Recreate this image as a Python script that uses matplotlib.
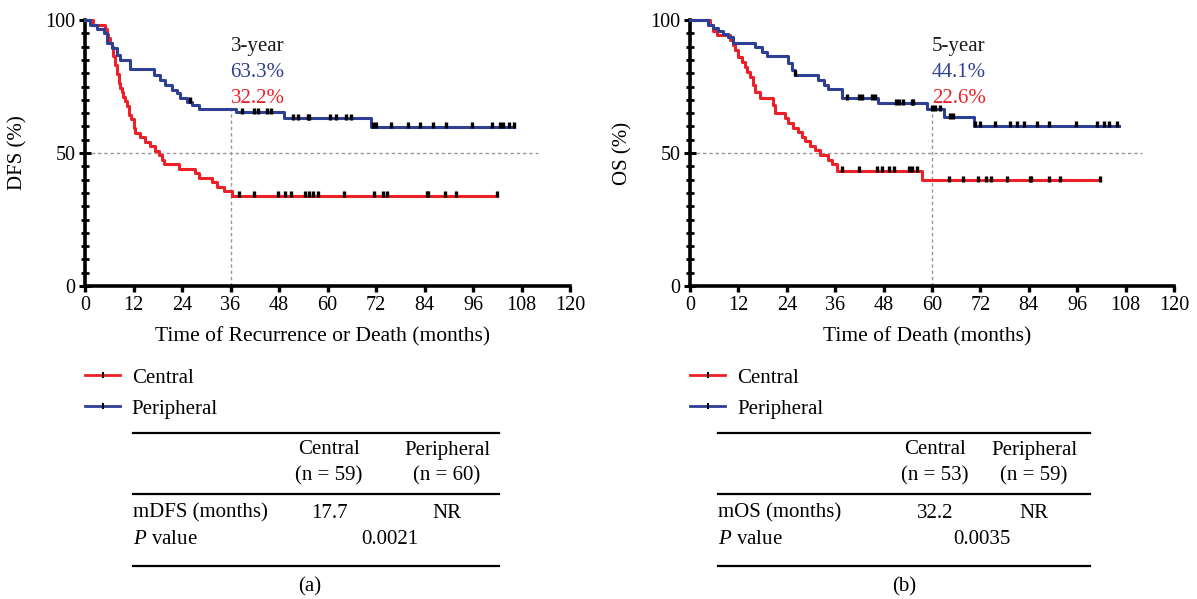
import numpy as np
import matplotlib
matplotlib.use("Agg")
import matplotlib.pyplot as plt
from matplotlib.lines import Line2D
from matplotlib.ticker import MultipleLocator

plt.rcParams['font.family'] = ['Liberation Serif', 'DejaVu Serif']
plt.rcParams['mathtext.fontset'] = 'custom'
plt.rcParams['mathtext.it'] = 'Liberation Serif:italic'

# ---- data (months, survival %) ----
# (a) disease-free survival
dfs_central_t = [0, 2.1, 5.0, 5.4, 5.8, 6.2, 6.6, 7.0, 7.5, 7.9, 8.3, 8.7, 9.1, 9.5, 10.0, 10.4,
                 11.0, 11.5, 12.0, 12.4, 13.7, 14.9, 16.1, 17.4, 18.2, 19.1, 19.5, 23.2, 27.3,
                 28.2, 31.5, 32.7, 34.4, 36.3]
dfs_central_s = [100, 98.3, 96.6, 94.9, 93.2, 91.5, 89.8, 86.4, 83.1, 79.7, 76.3, 74.6, 72.9, 71.2,
                 69.5, 67.8, 64.4, 62.7, 59.3, 57.6, 55.9, 54.2, 52.5, 50.8, 49.2, 47.5, 45.8,
                 44.1, 42.4, 40.7, 39.0, 37.3, 35.6, 33.9]
dfs_central_end = 101.9
dfs_central_cens = [38.1, 41.8, 47.8, 49.4, 50.9, 54.4, 55.5, 56.5, 57.7, 64.2, 71.6, 73.7, 74.8,
                    84.5, 84.9, 89.0, 91.9, 101.9]

dfs_periph_t = [0, 1.2, 2.9, 4.6, 5.4, 6.6, 7.9, 8.7, 11.2, 17.0, 18.6, 19.9, 21.5, 22.8, 23.6,
                25.3, 26.5, 28.2, 37.3, 49.3, 70.8]
dfs_periph_s = [100, 98.0, 96.5, 95.0, 91.5, 89.3, 86.8, 85.0, 81.5, 79.5, 77.5, 75.7, 73.8, 72.4,
                70.7, 69.3, 68.0, 66.5, 65.3, 63.0, 59.8]
dfs_periph_end = 106.2
dfs_periph_cens = [26.1, 38.9, 41.8, 42.7, 45.1, 46.0, 51.4, 52.6, 55.1, 55.5, 60.5, 62.1, 64.6,
                   65.8, 71.2, 72.1, 75.8, 79.8, 82.8, 86.1, 89.2, 95.7, 100.8, 102.7, 103.5,
                   104.8, 106.2]

# (b) overall survival
os_central_t = [0, 5.0, 5.8, 6.6, 9.9, 10.7, 11.2, 12.0, 12.8, 13.6, 14.1, 14.9, 15.7, 16.1, 17.4,
                20.7, 21.1, 23.6, 24.4, 25.6, 26.9, 27.7, 28.5, 29.8, 31.0, 32.3, 34.3, 35.2,
                36.4, 57.5]
os_central_s = [100, 98.1, 96.0, 94.4, 92.5, 90.6, 88.7, 86.2, 84.3, 82.4, 80.6, 78.7, 75.6, 73.0,
                70.6, 68.0, 64.9, 63.0, 61.2, 59.5, 57.8, 56.0, 54.5, 52.7, 51.0, 49.2, 47.4,
                45.8, 43.2, 39.8]
os_central_end = 101.7
os_central_cens = [37.8, 41.8, 46.3, 47.7, 49.4, 50.7, 54.3, 55.0, 56.4, 64.1, 67.7, 71.4, 73.4,
                   74.7, 78.6, 84.2, 84.6, 88.9, 91.8, 101.7]

os_periph_t = [0, 4.5, 5.8, 7.0, 8.3, 9.5, 10.7, 16.1, 17.8, 19.0, 24.4, 25.2, 26.1, 31.8, 33.1,
               34.3, 37.6, 46.7, 58.7, 62.9, 70.3]
os_periph_s = [100, 98.1, 96.9, 96.0, 94.7, 93.5, 91.5, 90.0, 88.1, 86.6, 83.7, 81.2, 79.3, 77.4,
               75.6, 73.9, 70.6, 68.7, 66.5, 63.4, 60.3]
os_periph_end = 106.3
os_periph_cens = [26.1, 38.9, 41.8, 42.6, 45.1, 45.9, 51.0, 51.7, 52.9, 55.0, 55.4, 60.0, 60.8,
                  62.0, 64.5, 65.3, 70.7, 72.0, 75.7, 79.4, 81.1, 82.7, 86.0, 89.1, 95.7, 100.9,
                  102.6, 103.8, 105.9]

groups = ['Central', 'Peripheral']
dfs_n = ['(n = 59)', '(n = 60)']
os_n = ['(n = 53)', '(n = 59)']
dfs_median = ['17.7', 'NR']
os_median = ['32.2', 'NR']
dfs_p = '0.0021'
os_p = '0.0035'
dfs_rates = ['3-year', '63.3%', '32.2%']
os_rates = ['5-year', '44.1%', '22.6%']

RED = '#ee2027'
BLUE = '#2e3f96'
W, H = 1197, 599
FS = 15


def fx(px):
    return px / W


def fy(py):
    return 1 - py / H


def step_val(t, s, x):
    i = np.searchsorted(t, x, side='right') - 1
    return np.asarray(s)[i]


def km(ax, t, s, end, cens, color):
    t2 = list(t) + [end]
    s2 = list(s) + [s[-1]]
    ax.step(t2, s2, where='post', color=color, lw=2.2, clip_on=False, zorder=3)
    cy = [step_val(t, s, c) + 0.6 for c in cens]
    ax.plot(cens, cy, ls='none', marker='|', ms=5, mew=2.4, color='black', zorder=4,
            clip_on=False)


def style(ax, ylab, xlab, mark, rates, periph_t, periph_s):
    ax.set_xlim(0, 120)
    ax.set_ylim(0, 100)
    for sp in ['top', 'right']:
        ax.spines[sp].set_visible(False)
    for sp in ['left', 'bottom']:
        ax.spines[sp].set_linewidth(2.6)
    ax.set_xticks(np.arange(0, 121, 12))
    ax.set_yticks([0, 50, 100])
    ax.yaxis.set_minor_locator(MultipleLocator(5))
    ax.tick_params(axis='x', direction='out', length=4, width=2.4, labelsize=14.5, pad=3)
    ax.tick_params(axis='y', which='major', direction='inout', length=8, width=2.2,
                   labelsize=14.5, pad=3)
    ax.tick_params(axis='y', which='minor', direction='inout', length=6, width=2)
    ax.set_ylabel(ylab, fontsize=15)
    ax.yaxis.set_label_coords(-0.118, 0.5)
    ax.set_xlabel(xlab, fontsize=15.5)
    ax.xaxis.set_label_coords(0.49, -0.155)
    # reference lines
    ax.hlines(50, 0, 112, colors='#9a9a9a', linestyles=(0, (2.5, 2)), lw=1, zorder=1)
    top = step_val(periph_t, periph_s, mark)
    ax.vlines(mark, 0, top, colors='#9a9a9a', linestyles=(0, (2.5, 2)), lw=1, zorder=1)
    ax.text(mark, 90.2, rates[0], color='#1a1a1a', fontsize=15, va='center')
    ax.text(mark, 80.4, rates[1], color=BLUE, fontsize=15, va='center')
    ax.text(mark, 70.6, rates[2], color=RED, fontsize=15, va='center')


fig = plt.figure(figsize=(W / 100, H / 100), dpi=100)
ax1 = fig.add_axes([fx(85), fy(286), fx(570) - fx(85), fy(20) - fy(286)])
ax2 = fig.add_axes([fx(690), fy(286), fx(1174) - fx(690), fy(20) - fy(286)])

km(ax1, dfs_central_t, dfs_central_s, dfs_central_end, dfs_central_cens, RED)
km(ax1, dfs_periph_t, dfs_periph_s, dfs_periph_end, dfs_periph_cens, BLUE)
style(ax1, 'DFS (%)', 'Time of Recurrence or Death (months)', 36, dfs_rates,
      dfs_periph_t, dfs_periph_s)

km(ax2, os_central_t, os_central_s, os_central_end, os_central_cens, RED)
km(ax2, os_periph_t, os_periph_s, os_periph_end, os_periph_cens, BLUE)
style(ax2, 'OS (%)', 'Time of Death (months)', 60, os_rates, os_periph_t, os_periph_s)

# legends
for ax, x0 in [(ax1, 85), (ax2, 690)]:
    handles = [Line2D([], [], color=c, lw=2, marker='|', ms=5, mew=1.5, mec='black')
               for c in [RED, BLUE]]
    ax.legend(handles, groups, loc='upper left', bbox_to_anchor=(fx(x0), fy(368)),
              bbox_transform=fig.transFigure, frameon=False, fontsize=FS,
              handlelength=1.7, handletextpad=0.55, borderpad=0, borderaxespad=0,
              labelspacing=0.55)


# summary tables
def table(x_left, x_right, x_c1, x_c2, x_p, n_labels, row_label, medians, pval, tag, x_tag):
    for y in [433, 494, 566]:
        fig.add_artist(Line2D([fx(x_left), fx(x_right)], [fy(y), fy(y)], color='black',
                              lw=1.6))
    for xc, g, n in [(x_c1, groups[0], n_labels[0]), (x_c2, groups[1], n_labels[1])]:
        fig.text(fx(xc), fy(450), g, ha='center', va='center', fontsize=FS)
        fig.text(fx(xc), fy(476), n, ha='center', va='center', fontsize=FS)
    fig.text(fx(x_left), fy(513), row_label, ha='left', va='center', fontsize=FS)
    fig.text(fx(x_c1), fy(513), medians[0], ha='center', va='center', fontsize=FS)
    fig.text(fx(x_c2), fy(513), medians[1], ha='center', va='center', fontsize=FS)
    fig.text(fx(x_left), fy(540), '$\\mathit{P}$ value', ha='left', va='center', fontsize=FS)
    fig.text(fx(x_p), fy(540), pval, ha='center', va='center', fontsize=FS)
    fig.text(fx(x_tag), fy(587), tag, ha='center', va='center', fontsize=FS)


table(133, 499, 329, 447, 390, dfs_n, 'mDFS (months)', dfs_median, dfs_p, '(a)', 310)
table(718, 1090, 935, 1034, 982, os_n, 'mOS (months)', os_median, os_p, '(b)', 904)

fig.savefig('out.png', dpi=100)
